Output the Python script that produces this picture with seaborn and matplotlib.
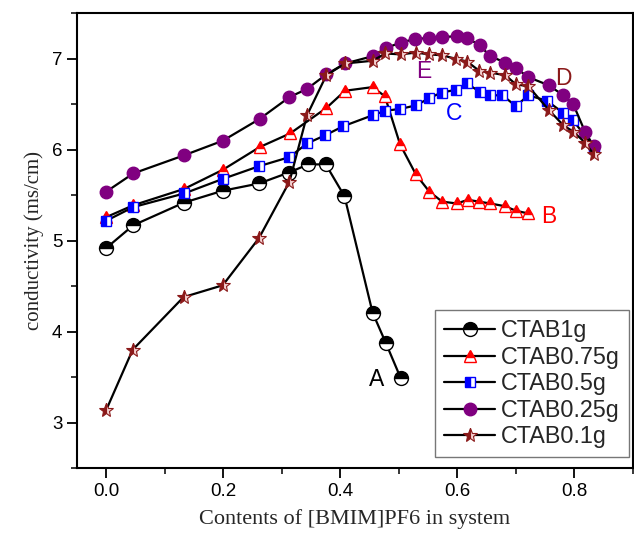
import matplotlib
matplotlib.use("Agg")
import matplotlib.pyplot as plt
import seaborn as sns
import pandas as pd
from matplotlib.ticker import MultipleLocator

# ---- data ----
x_a = [0, 0.046, 0.133, 0.199, 0.261, 0.312, 0.345, 0.375, 0.407, 0.455, 0.478, 0.503]
y_a = [4.92, 5.17, 5.42, 5.55, 5.63, 5.75, 5.84, 5.84, 5.49, 4.21, 3.87, 3.49]

x_b = [0, 0.046, 0.133, 0.199, 0.262, 0.314, 0.376, 0.408, 0.455, 0.476, 0.502, 0.529,
       0.552, 0.574, 0.599, 0.618, 0.637, 0.656, 0.681, 0.700, 0.721]
y_b = [5.26, 5.39, 5.57, 5.78, 6.03, 6.18, 6.46, 6.65, 6.69, 6.59, 6.06, 5.73,
       5.54, 5.43, 5.41, 5.45, 5.43, 5.41, 5.38, 5.33, 5.30]

x_c = [0, 0.046, 0.133, 0.199, 0.261, 0.313, 0.343, 0.374, 0.405, 0.455, 0.477, 0.502,
       0.530, 0.552, 0.573, 0.597, 0.616, 0.638, 0.656, 0.677, 0.700, 0.721, 0.753,
       0.780, 0.797, 0.834]
y_c = [5.22, 5.37, 5.52, 5.68, 5.82, 5.92, 6.07, 6.16, 6.26, 6.38, 6.43, 6.45,
       6.49, 6.57, 6.63, 6.66, 6.73, 6.64, 6.60, 6.60, 6.48, 6.60, 6.54,
       6.41, 6.33, 6.02]

x_d = [0, 0.046, 0.133, 0.199, 0.262, 0.313, 0.343, 0.376, 0.408, 0.455, 0.478, 0.503,
       0.528, 0.552, 0.574, 0.599, 0.617, 0.638, 0.656, 0.682, 0.700, 0.721, 0.756,
       0.781, 0.798, 0.818, 0.833]
y_d = [5.54, 5.74, 5.94, 6.10, 6.34, 6.58, 6.67, 6.83, 6.95, 7.03, 7.12, 7.18,
       7.22, 7.23, 7.24, 7.25, 7.23, 7.15, 7.03, 6.96, 6.90, 6.80, 6.71,
       6.60, 6.50, 6.20, 6.04]

x_e = [0, 0.045, 0.132, 0.199, 0.261, 0.313, 0.343, 0.376, 0.408, 0.455, 0.477, 0.503,
       0.529, 0.552, 0.574, 0.598, 0.617, 0.637, 0.656, 0.682, 0.700, 0.721, 0.756,
       0.781, 0.798, 0.818, 0.833]
y_e = [3.14, 3.80, 4.38, 4.51, 5.03, 5.65, 6.38, 6.82, 6.95, 6.98, 7.06, 7.05,
       7.07, 7.05, 7.04, 7.00, 6.97, 6.87, 6.85, 6.82, 6.72, 6.70, 6.44,
       6.27, 6.20, 6.08, 5.95]

series_names = ["CTAB1g", "CTAB0.75g", "CTAB0.5g", "CTAB0.25g", "CTAB0.1g"]
curve_letters = ["A", "B", "C", "D", "E"]
letter_x = [0.462, 0.756, 0.595, 0.781, 0.542]
letter_y = [3.47, 5.27, 6.40, 6.79, 6.86]
letter_colors = ["black", "#ff0000", "#0000ff", "#8b1a1a", "#800080"]

xticks = [0.0, 0.2, 0.4, 0.6, 0.8]
yticks = [3, 4, 5, 6, 7]

# ---- plot ----
sns.set_style("ticks")
plt.rcParams["font.family"] = ["Liberation Sans", "DejaVu Sans"]

fig, ax = plt.subplots(figsize=(6.34, 5.37), dpi=100)
fig.subplots_adjust(left=0.1215, right=0.9984, top=0.9749, bottom=0.1285)

styles = [
    dict(marker="o", ms=10, fillstyle="top", markerfacecolor="black",
         markerfacecoloralt="white", markeredgecolor="black", markeredgewidth=1.0),
    dict(marker="^", ms=9, fillstyle="top", markerfacecolor="#ff0000",
         markerfacecoloralt="white", markeredgecolor="#ff0000", markeredgewidth=1.0),
    dict(marker="s", ms=7.5, fillstyle="left", markerfacecolor="#0000ff",
         markerfacecoloralt="white", markeredgecolor="#0000ff", markeredgewidth=1.0),
    dict(marker="o", ms=9, fillstyle="full", markerfacecolor="#800080",
         markeredgecolor="#800080", markeredgewidth=1.0),
    dict(marker="*", ms=10, fillstyle="left", markerfacecolor="#8b1a1a",
         markerfacecoloralt="#f3cfcf", markeredgecolor="#8b1a1a", markeredgewidth=0.8),
]

xs = [x_a, x_b, x_c, x_d, x_e]
ys = [y_a, y_b, y_c, y_d, y_e]
for name, xv, yv, st in zip(series_names, xs, ys, styles):
    df = pd.DataFrame({"x": xv, "y": yv})
    sns.lineplot(data=df, x="x", y="y", ax=ax, sort=False, estimator=None,
                 color="black", linewidth=1.6, label=name, **st)

for lt, lx, ly, lc in zip(curve_letters, letter_x, letter_y, letter_colors):
    ax.text(lx, ly, lt, color=lc, fontsize=16.5, ha="center", va="center")

ax.set_xlim(-0.05, 0.9)
ax.set_ylim(2.5, 7.5)
ax.set_xticks(xticks)
ax.set_xticklabels([f"{v:.1f}" for v in xticks])
ax.set_yticks(yticks)
ax.set_yticklabels([str(v) for v in yticks])
ax.xaxis.set_minor_locator(MultipleLocator(0.1))
ax.yaxis.set_minor_locator(MultipleLocator(0.5))
ax.tick_params(which="major", direction="out", length=7, width=1.3, labelsize=13.5,
               top=False, right=False, colors="black")
ax.tick_params(which="minor", direction="out", length=4, width=1.3, top=False, right=False)
for sp in ax.spines.values():
    sp.set_visible(True)
    sp.set_linewidth(1.5)
    sp.set_color("black")

ax.set_xlabel("Contents of [BMIM]PF6 in system", fontsize=16,
              family=["Liberation Serif", "DejaVu Serif"], labelpad=7)
ax.set_ylabel("conductivity (ms/cm)", fontsize=15,
              family=["Liberation Serif", "DejaVu Serif"], labelpad=6)

leg = ax.legend(loc="lower right", bbox_to_anchor=(0.993, 0.024), borderaxespad=0,
                fontsize=16.8, frameon=True, fancybox=False, shadow=False,
                labelspacing=0.15, handlelength=2.2, handletextpad=0.26,
                borderpad=0.38)
leg.get_frame().set_edgecolor("#555555")
leg.get_frame().set_linewidth(1.0)

fig.savefig("out.png", dpi=100)
